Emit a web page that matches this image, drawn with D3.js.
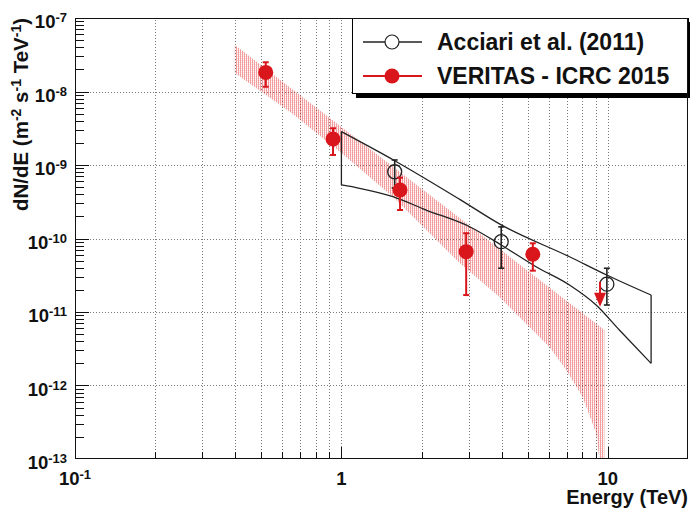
<!DOCTYPE html>
<html>
<head>
<meta charset="utf-8">
<script src="https://cdn.jsdelivr.net/npm/d3@7"></script>
<style>
  body { margin: 0; background: #fff; }
  text { font-family: "Liberation Sans", Arial, Helvetica, sans-serif; font-weight: bold; fill: #111; }
</style>
</head>
<body>
<div id="chart"></div>
<script>
// VERITAS - ICRC 2015 spectral points (TeV, m^-2 s^-1 TeV^-1)
const verE  = [0.52, 0.93, 1.66, 2.94, 5.23];
const verF  = [1.82e-8, 2.26e-9, 4.57e-10, 6.62e-11, 6.1e-11];
const verLo = [1.16e-8, 1.37e-9, 2.44e-10, 1.70e-11, 3.65e-11];
const verHi = [2.5e-8, 3.16e-9, 6.72e-10, 1.18e-10, 8.61e-11];
// upper limit
const ulE = [9.35];
const ulF = [2.58e-11];

// Acciari et al. (2011) points
const accE  = [1.585, 3.98, 9.92];
const accF  = [8.1e-10, 9.06e-11, 2.39e-11];
const accLo = [4.86e-10, 3.94e-11, 1.245e-11];
const accHi = [1.17e-9, 1.44e-10, 3.94e-11];

// VERITAS fit confidence band
const bandUpE = [0.398, 1, 2.78, 9.71];
const bandUpF = [4.30e-8, 3.29e-9, 1.90e-10, 5.69e-12];
const bandLoE = [0.398, 0.65, 1, 1.56, 2.78, 3.92, 6.04, 6.98, 8.03, 9.04, 9.30, 9.71];
const bandLoF = [1.79e-8, 5.09e-9, 1.46e-9, 3.71e-10, 4.64e-11, 1.60e-11, 3.34e-12, 1.63e-12, 7.05e-13, 2.26e-13, 1.0e-13, 5e-14];

// Acciari butterfly
const bowUpE = [1, 1.585, 2.78, 3.98, 7.18, 9.9, 14.54];
const bowUpF = [2.84e-9, 1.144e-9, 3.41e-10, 1.53e-10, 5.65e-11, 3.19e-11, 1.70e-11];
const bowLoE = [1, 1.17, 1.56, 2.08, 3.03, 3.98, 5.38, 7.18, 9.04, 11.05, 14.54];
const bowLoF = [5.35e-10, 4.82e-10, 3.71e-10, 2.44e-10, 1.445e-10, 8.16e-11, 4.13e-11, 2.33e-11, 1.245e-11, 5.69e-12, 2.00e-12];

const xLabelVals = [0.1, 1, 10];
const xLabelBase = ["10", "1", "10"];
const xLabelExp  = ["-1", "", ""];
const yExps = [-7, -8, -9, -10, -11, -12, -13];
const legendNames = ["Acciari et al. (2011)", "VERITAS - ICRC 2015"];

const W = 690, H = 508;
const red = "#d9161c";

const svg = d3.select("#chart").append("svg")
  .attr("width", W)
  .attr("height", H)
  .style("display", "block");

svg.append("rect").attr("width", W).attr("height", H).attr("fill", "#fff");

const x = d3.scaleLog().domain([0.1, 20]).range([75, 688]);
const y = d3.scaleLog().domain([1e-13, 1e-7]).range([459, 18]);

const defs = svg.append("defs");
defs.append("clipPath").attr("id", "plotclip")
  .append("rect")
  .attr("x", x.range()[0]).attr("y", y.range()[1])
  .attr("width", x.range()[1] - x.range()[0])
  .attr("height", y.range()[0] - y.range()[1]);

const pat = defs.append("pattern")
  .attr("id", "hatch")
  .attr("patternUnits", "userSpaceOnUse")
  .attr("width", 2).attr("height", 2);
pat.append("rect").attr("width", 1).attr("height", 2).attr("fill", "rgba(226,40,40,0.45)");
pat.append("rect").attr("x", 1).attr("width", 1).attr("height", 1).attr("fill", "rgba(226,40,40,0.15)");

// grid
const xt = x.ticks().filter(d => d > 0.1 && d < 20);
const yDec = yExps.map(e => Math.pow(10, e));

const grid = svg.append("g")
  .attr("stroke", "#7a7a7a")
  .attr("stroke-width", 1)
  .attr("stroke-dasharray", "1,2");

grid.selectAll("line.gx")
  .data(xt)
  .join("line")
  .attr("class", "gx")
  .attr("x1", d => Math.round(x(d)) + 0.5)
  .attr("x2", d => Math.round(x(d)) + 0.5)
  .attr("y1", y.range()[0])
  .attr("y2", y.range()[1]);

grid.selectAll("line.gy")
  .data(yDec.filter(d => d > 1e-13 && d < 1e-7))
  .join("line")
  .attr("class", "gy")
  .attr("x1", x.range()[0])
  .attr("x2", x.range()[1])
  .attr("y1", d => Math.round(y(d)) + 0.5)
  .attr("y2", d => Math.round(y(d)) + 0.5);

const plot = svg.append("g").attr("clip-path", "url(#plotclip)");

// red band
const bandPts = bandUpE.map((e, i) => [e, bandUpF[i]])
  .concat(bandLoE.map((e, i) => [e, bandLoF[i]]).reverse());

const line = d3.line().x(d => x(d[0])).y(d => y(d[1]));
const curve = d3.line().x(d => x(d[0])).y(d => y(d[1])).curve(d3.curveMonotoneX);

plot.append("path")
  .attr("d", line(bandPts) + "Z")
  .attr("fill", "url(#hatch)")
  .attr("stroke", "none");

// black butterfly: two smooth envelopes + vertical ends
const bowUp = bowUpE.map((e, i) => [e, bowUpF[i]]);
const bowLo = bowLoE.map((e, i) => [e, bowLoF[i]]);
const bow = plot.append("g")
  .attr("fill", "none")
  .attr("stroke", "#222")
  .attr("stroke-width", 1.3);
bow.append("path").attr("d", curve(bowUp));
bow.append("path").attr("d", curve(bowLo));
bow.append("path").attr("d", line([bowUp[0], bowLo[0]]));
bow.append("path").attr("d", line([bowUp[bowUp.length - 1], bowLo[bowLo.length - 1]]));

// error bars helper
function drawPoints(g, E, F, lo, hi, color, width, filled) {
  const cap = 3;
  const grp = g.append("g");
  const pts = grp.selectAll("g").data(E.map((e, i) => ({ e: e, f: F[i], lo: lo[i], hi: hi[i] }))).join("g");
  pts.append("line")
    .attr("x1", d => x(d.e)).attr("x2", d => x(d.e))
    .attr("y1", d => y(d.hi)).attr("y2", d => y(d.lo))
    .attr("stroke", color).attr("stroke-width", width);
  pts.append("line")
    .attr("x1", d => x(d.e) - cap).attr("x2", d => x(d.e) + cap)
    .attr("y1", d => y(d.hi)).attr("y2", d => y(d.hi))
    .attr("stroke", color).attr("stroke-width", width);
  pts.append("line")
    .attr("x1", d => x(d.e) - cap).attr("x2", d => x(d.e) + cap)
    .attr("y1", d => y(d.lo)).attr("y2", d => y(d.lo))
    .attr("stroke", color).attr("stroke-width", width);
  pts.append("circle")
    .attr("cx", d => x(d.e)).attr("cy", d => y(d.f))
    .attr("r", filled ? 7.5 : 7)
    .attr("fill", filled ? color : "none")
    .attr("stroke", filled ? "none" : "#222")
    .attr("stroke-width", 1.3);
}

drawPoints(plot, accE, accF, accLo, accHi, "#222", 1.6, false);
drawPoints(plot, verE, verF, verLo, verHi, red, 2, true);

// upper limit arrow
const ul = plot.append("g").selectAll("g").data(ulE.map((e, i) => ({ e: e, f: ulF[i] }))).join("g");
ul.append("line")
  .attr("x1", d => x(d.e)).attr("x2", d => x(d.e))
  .attr("y1", d => y(d.f)).attr("y2", d => y(d.f) + 12)
  .attr("stroke", red).attr("stroke-width", 2);
ul.append("path")
  .attr("d", d => {
    const cx = x(d.e), cy = y(d.f) + 11;
    return `M${cx - 6},${cy} L${cx + 6},${cy} L${cx},${cy + 14} Z`;
  })
  .attr("fill", red);

// legend
const lg = svg.append("g");
lg.append("rect").attr("x", 356).attr("y", 22).attr("width", 336).attr("height", 76).attr("fill", "#000");
lg.append("rect").attr("x", 352.5).attr("y", 18.5).attr("width", 336).attr("height", 75)
  .attr("fill", "#fff").attr("stroke", "#000").attr("stroke-width", 1);

const legRows = [
  { name: legendNames[0], color: "#222", filled: false, y: 42 },
  { name: legendNames[1], color: red, filled: true, y: 76 }
];
const lr = lg.selectAll("g.row").data(legRows).join("g").attr("class", "row");
lr.append("line")
  .attr("x1", 363).attr("x2", 422)
  .attr("y1", d => d.y).attr("y2", d => d.y)
  .attr("stroke", d => d.color).attr("stroke-width", d => d.filled ? 2 : 1.5);
lr.append("circle")
  .attr("cx", 392).attr("cy", d => d.y)
  .attr("r", d => d.filled ? 7.5 : 7)
  .attr("fill", d => d.filled ? d.color : "#fff")
  .attr("stroke", d => d.filled ? "none" : "#222")
  .attr("stroke-width", 1.2);
lr.append("text")
  .attr("x", 437).attr("y", d => d.y + 8)
  .attr("font-size", 23)
  .text(d => d.name);

// axes
const ax = svg.append("g").attr("stroke", "#111").attr("stroke-width", 1);
ax.append("rect")
  .attr("x", x.range()[0] + 0.5).attr("y", y.range()[1] + 0.5)
  .attr("width", x.range()[1] - x.range()[0] - 1)
  .attr("height", y.range()[0] - y.range()[1] - 1)
  .attr("fill", "none");

// x ticks
const xTickAll = x.ticks().filter(d => d > 0.1 && d < 20);
ax.selectAll("line.tx")
  .data(xTickAll)
  .join("line")
  .attr("x1", d => Math.round(x(d)) + 0.5).attr("x2", d => Math.round(x(d)) + 0.5)
  .attr("y1", y.range()[0])
  .attr("y2", d => y.range()[0] - (Math.abs(Math.log10(d) - Math.round(Math.log10(d))) < 1e-6 ? 12 : 7));

// y ticks
const yTickAll = y.ticks().filter(d => d > 1e-13 && d < 1e-7);
ax.selectAll("line.ty")
  .data(yTickAll)
  .join("line")
  .attr("y1", d => Math.round(y(d)) + 0.5).attr("y2", d => Math.round(y(d)) + 0.5)
  .attr("x1", x.range()[0])
  .attr("x2", d => x.range()[0] + (Math.abs(Math.log10(d) - Math.round(Math.log10(d))) < 1e-6 ? 14 : 9));

// y tick labels
const yl = svg.append("g").selectAll("text")
  .data(yExps)
  .join("text")
  .attr("x", 67)
  .attr("y", d => y(Math.pow(10, d)) + 10)
  .attr("text-anchor", "end")
  .attr("font-size", 18.5);
yl.append("tspan").text("10");
yl.append("tspan").attr("dy", -6).attr("font-size", 13).text(d => String(d));

// x tick labels
const xl = svg.append("g").selectAll("text")
  .data(xLabelVals)
  .join("text")
  .attr("x", d => x(d))
  .attr("y", 485)
  .attr("text-anchor", "middle")
  .attr("font-size", 18.5);
xl.append("tspan").text((d, i) => xLabelBase[i]);
xl.append("tspan").attr("dy", -6).attr("font-size", 13).text((d, i) => xLabelExp[i]);

// axis titles
svg.append("text")
  .attr("x", 688).attr("y", 504)
  .attr("text-anchor", "end")
  .attr("font-size", 20)
  .text("Energy (TeV)");

const yt = svg.append("text")
  .attr("transform", "translate(28,18) rotate(-90)")
  .attr("text-anchor", "end")
  .attr("font-size", 20.5);
yt.append("tspan").text("dN/dE (m");
yt.append("tspan").attr("dy", -7).attr("font-size", 14).text("-2");
yt.append("tspan").attr("dy", 7).text(" s");
yt.append("tspan").attr("dy", -7).attr("font-size", 14).text("-1");
yt.append("tspan").attr("dy", 7).text(" TeV");
yt.append("tspan").attr("dy", -7).attr("font-size", 14).text("-1");
yt.append("tspan").attr("dy", 7).text(")");
</script>
</body>
</html>
